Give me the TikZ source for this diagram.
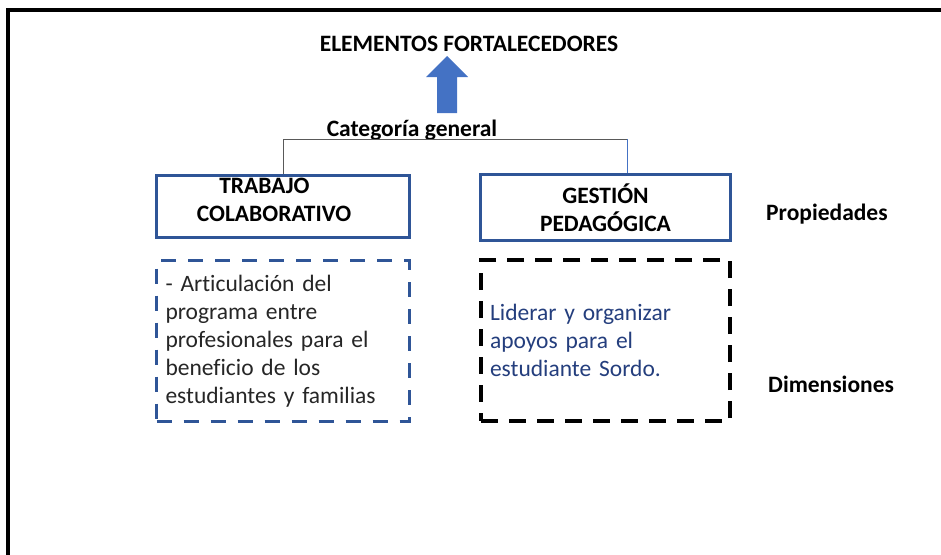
\documentclass[tikz,border=0pt]{standalone}
\usepackage{fontspec}
\setmainfont{Carlito}[Ligatures=NoCommon]
\definecolor{boxblue}{RGB}{47,85,151}
\definecolor{arrowblue}{RGB}{68,114,196}
\definecolor{textblue}{RGB}{36,62,125}
\definecolor{linegray}{RGB}{89,89,89}
\begin{document}
\begin{tikzpicture}[x=1pt,y=-1pt,
  plain/.style={inner sep=0pt, font=\fontsize{23.5}{28}\selectfont},
  boldtxt/.style={inner sep=0pt, font=\fontsize{23.5}{28}\selectfont\bfseries},
  headbox/.style={draw=boxblue, line width=3.3pt, inner sep=0pt, align=center,
    font=\fontsize{23.5}{28}\selectfont\bfseries},
  dimbox/.style={line width=#1, inner xsep=9pt, inner ysep=0pt, align=left,
    font=\fontsize{23.5}{28}\selectfont},
  connector/.style={draw=linegray, line width=1pt}]
\useasboundingbox (0,0) rectangle (941,554);
% outer frame (only top and left edges visible)
\draw[line width=3.5pt] (8,600) -- (8,10) -- (960,10);
% title
\node[boldtxt, anchor=base] (title) at (469,51) {ELEMENTOS FORTALECEDORES};
% block arrow
\fill[arrowblue] (437,113) -- (437,77) -- (426,77) -- (447,56) -- (468,77) -- (457,77) -- (457,113) -- cycle;
% category label
\node[boldtxt, anchor=base] (cat) at (412,136) {Categoría general};
% header boxes
\node[headbox, minimum width=253pt, minimum height=62pt, text depth=14pt] (tc) at (283,206.5)
  {TRABAJO\hspace*{37pt}\\COLABORATIVO\hspace*{18pt}};
\node[headbox, minimum width=250pt, minimum height=66pt] (gp) at (605.5,207.5)
  {GESTIÓN\\PEDAGÓGICA};
% connector
\coordinate (j2) at (627,139);
\draw[connector] (tc.north) |- (j2);
\draw[draw=arrowblue, line width=1pt] (j2) -- (j2 |- gp.north);
% side labels
\node[boldtxt, anchor=base west] (prop) at (766,220.7) {Propiedades};
\node[boldtxt, anchor=base west] (dim) at (768,392) {Dimensiones};
% dimension boxes
\node[dimbox=3pt, draw=boxblue, dash pattern=on 15pt off 12pt, text width=235pt,
  minimum height=161pt, text=black!85] (d1) at (283,341)
  {- Articulación del\\programa entre\\profesionales para el\\beneficio de los\\estudiantes y familias};
\node[dimbox=4pt, draw=black, dash pattern=on 17pt off 11pt, text width=231pt,
  minimum height=161pt, text=textblue] (d2) at (605.5,340.5)
  {Liderar y organizar\\apoyos para el\\estudiante Sordo.};
\end{tikzpicture}
\end{document}
